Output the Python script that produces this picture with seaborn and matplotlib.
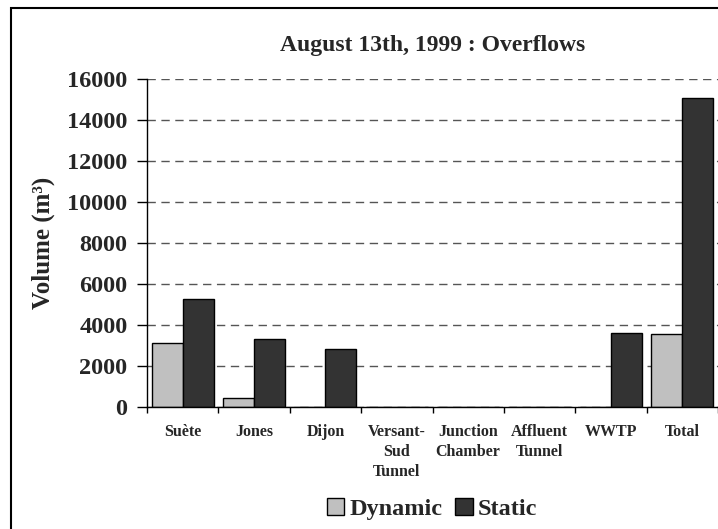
import numpy as np
import pandas as pd
import matplotlib
matplotlib.use("Agg")
import matplotlib.pyplot as plt
from matplotlib.patches import Rectangle
import seaborn as sns

sites = ['Suète', 'Jones', 'Dijon', 'Versant-\nSud\nTunnel', 'Junction\nChamber',
         'Affluent\nTunnel', 'WWTP', 'Total']
dynamic = [3120, 440, 0, 0, 0, 0, 0, 3560]
static = [5270, 3320, 2830, 0, 0, 0, 3610, 15070]
series = ['Dynamic', 'Static']
colors = {'Dynamic': '#c0c0c0', 'Static': '#333333'}

df = pd.DataFrame({'site': sites, 'Dynamic': dynamic, 'Static': static})
df = pd.melt(df, id_vars='site', value_vars=series, var_name='type', value_name='volume')

sns.set_style('white')
plt.rcParams['font.family'] = ['Liberation Serif', 'DejaVu Serif']
plt.rcParams['font.weight'] = 'bold'

fig = plt.figure(figsize=(7.18, 5.29), dpi=100)
ax = fig.add_axes([147/718, 122/529, 571/718, 328/529])

sns.barplot(data=df, x='site', y='volume', hue='type', palette=colors,
            width=0.87, edgecolor='black', linewidth=1.0, saturation=1,
            ax=ax, legend=True)

ax.set_ylim(0, 16000)
ax.set_xlim(-0.5, 7.5)
ax.set_yticks(np.arange(0, 16001, 2000))
ax.yaxis.grid(True, linestyle=(0, (6, 4)), color='#555555', linewidth=1.0)
ax.set_axisbelow(True)
for s in ['top', 'right']:
    ax.spines[s].set_visible(False)
for s in ['left', 'bottom']:
    ax.spines[s].set_color('black')
    ax.spines[s].set_linewidth(1.0)

ax.tick_params(axis='y', direction='out', length=7, width=1, color='black',
               labelsize=17.5, pad=7, left=True)
ax.set_xticks(range(len(sites)))
ax.set_xticklabels(sites, fontsize=11.5, fontweight='bold', linespacing=1.3)
ax.tick_params(axis='x', which='major', length=0, pad=12.5)
ax.set_xticks(np.arange(-0.5, 8, 1), minor=True)
ax.tick_params(axis='x', which='minor', direction='out', length=4, width=1,
               color='black', bottom=True)
for lab in ax.get_yticklabels():
    lab.set_fontweight('bold')

ax.set_xlabel('')
ax.set_ylabel('Volume (m³)', fontsize=18, fontweight='bold', labelpad=9)
ax.set_title('August 13th, 1999 : Overflows', fontsize=17, fontweight='bold', pad=20)

handles, labels = ax.get_legend_handles_labels()
ax.legend(handles, labels, loc='center', bbox_to_anchor=(432/718, 1 - 509/529),
          bbox_transform=fig.transFigure, ncol=2, frameon=False,
          prop={'size': 17.5, 'weight': 'bold'}, handlelength=0.72, handleheight=0.72,
          handletextpad=0.2, columnspacing=0.55)

fig.patches.append(Rectangle((11/718, -0.1), 1.2, 1.1 - 8/529, transform=fig.transFigure,
                             fill=False, edgecolor='black', linewidth=1.5))

fig.savefig('out.png', dpi=100)
